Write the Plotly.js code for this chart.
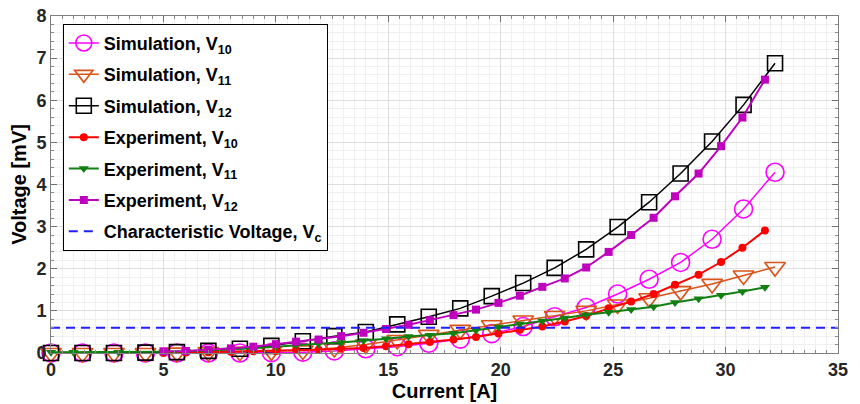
<!DOCTYPE html>
<html><head><meta charset="utf-8">
<script src="https://cdn.plot.ly/plotly-3.0.1.min.js"></script>
<style>html,body{margin:0;padding:0;background:#fff}#chart{width:860px;height:404px}</style>
</head><body><div id="chart"></div>
<script>
// Simulation currents [A]
const simCurrent = [0,1.4,2.8,4.2,5.6,7.0,8.4,9.8,11.2,12.6,14.0,15.4,16.8,18.2,19.6,21.0,22.4,23.8,25.2,26.6,28.0,29.4,30.8,32.2];
const simV10 = [0,0,0,0,0,0,0,0.01,0.02,0.05,0.10,0.15,0.23,0.33,0.46,0.63,0.86,1.08,1.40,1.75,2.15,2.70,3.42,4.29];
const simV11 = [0,0,0,0,0.01,0.02,0.03,0.04,0.06,0.12,0.20,0.31,0.43,0.55,0.66,0.77,0.88,1.00,1.15,1.30,1.47,1.64,1.84,2.04];
const simV12 = [0,0,0,0.01,0.02,0.05,0.10,0.17,0.28,0.40,0.50,0.68,0.86,1.06,1.35,1.66,2.02,2.46,2.99,3.58,4.26,5.02,5.89,6.88];

// Experiment currents [A]
const expCurrent = [5,6,7,8,9,10,10.9,11.9,12.9,13.9,14.9,15.9,16.85,17.9,18.9,19.9,20.85,21.85,22.85,23.8,24.8,25.8,26.8,27.75,28.8,29.8,30.75,31.75];
const expV10 = [0,0.01,0.02,0.03,0.04,0.05,0.07,0.08,0.10,0.12,0.16,0.21,0.26,0.32,0.38,0.46,0.55,0.63,0.75,0.88,1.06,1.22,1.40,1.62,1.86,2.16,2.50,2.91];
const expV12 = [0.04,0.05,0.08,0.11,0.15,0.21,0.27,0.32,0.40,0.48,0.57,0.67,0.78,0.90,1.03,1.19,1.36,1.57,1.77,2.03,2.40,2.80,3.21,3.72,4.26,4.91,5.59,6.49];
const expV11Current = [0,1,3,5,6,7,8,9,10,10.9,11.9,12.9,13.9,14.9,15.9,16.85,17.9,18.9,19.9,20.85,21.85,22.85,23.8,24.8,25.8,26.8,27.75,28.8,29.8,30.75,31.75];
const expV11 = [0.02,0.02,0.02,0.03,0.04,0.06,0.08,0.11,0.15,0.19,0.22,0.25,0.29,0.34,0.39,0.42,0.47,0.54,0.62,0.69,0.76,0.83,0.91,0.97,1.03,1.10,1.20,1.29,1.37,1.46,1.56];

// Characteristic voltage
const vcCurrent = [0, 35];
const vcVoltage = 0.6;

const names = [
  'Simulation, V<sub>10</sub>',
  'Simulation, V<sub>11</sub>',
  'Simulation, V<sub>12</sub>',
  'Experiment, V<sub>10</sub>',
  'Experiment, V<sub>11</sub>',
  'Experiment, V<sub>12</sub>',
  'Characteristic Voltage, V<sub>c</sub>'
];

function tr(i, x, y, color, symbol, size, lw, mlw) {
  return {
    type: 'scatter', mode: 'lines+markers', x: x, y: y, name: names[i],
    legendgroup: 'g' + i, cliponaxis: false,
    line: {color: color, width: lw},
    marker: {color: color, symbol: symbol, size: size, line: {color: color, width: mlw}}
  };
}

const traces = [
  tr(0, simCurrent, simV10, '#ff00ff', 'circle-open', 18, 1.5, 1.6),
  tr(1, simCurrent, simV11, '#d95319', 'triangle-down-open', 18, 1.5, 1.6),
  tr(2, simCurrent, simV12, '#000000', 'square-open', 15, 1.5, 1.6),
  tr(3, expCurrent, expV10, '#ff0000', 'circle', 8, 2, 0),
  tr(4, expV11Current, expV11, '#118011', 'triangle-down', 9, 2, 0),
  tr(5, expCurrent, expV12, '#bf00bf', 'square', 8, 2, 0),
  {type:'scatter', mode:'lines', x: vcCurrent, y: vcCurrent.map(() => vcVoltage), name: names[6],
   legendgroup:'g6', cliponaxis:false, line:{color:'#1f1fff', width:2, dash:'9px,6px'}}
];

const fontFam = 'Liberation Sans, Arial, Helvetica, sans-serif';
const layout = {
  width: 860, height: 404,
  margin: {l: 51, r: 22, t: 16, b: 51},
  paper_bgcolor: '#fff', plot_bgcolor: '#fff',
  font: {family: fontFam, color: '#262626', weight: 'bold'},
  showlegend: true,
  legend: {
    x: 0.015, y: 0.977, xanchor: 'left', yanchor: 'top',
    bgcolor: '#fff', bordercolor: '#000', borderwidth: 1,
    font: {family: fontFam, size: 18, color: '#000', weight: 'bold'},
    tracegroupgap: 5, itemwidth: 30, traceorder: 'grouped'
  },
  xaxis: {
    range: [0, 35], dtick: 5, tick0: 0,
    showline: true, mirror: 'allticks', linecolor: '#808080', linewidth: 1,
    ticks: 'inside', ticklen: 6, tickcolor: '#707070',
    showgrid: true, gridcolor: '#dedede', zeroline: false,
    tickfont: {family: fontFam, size: 18, color: '#262626', weight: 'bold'},
    minor: {dtick: 0.5, showgrid: true, gridcolor: '#f0f0f0', ticks: 'inside', ticklen: 3, tickcolor: '#8a8a8a'},
    title: {text: 'Current [A]', font: {family: fontFam, size: 20, color: '#000', weight: 'bold'}, standoff: 4}
  },
  yaxis: {
    range: [0, 8], dtick: 1, tick0: 0,
    showline: true, mirror: 'allticks', linecolor: '#808080', linewidth: 1,
    ticks: 'inside', ticklen: 6, tickcolor: '#707070',
    showgrid: true, gridcolor: '#dedede', zeroline: false,
    tickfont: {family: fontFam, size: 18, color: '#262626', weight: 'bold'},
    minor: {dtick: 0.2, showgrid: true, gridcolor: '#f0f0f0', ticks: 'inside', ticklen: 3, tickcolor: '#8a8a8a'},
    title: {text: 'Voltage [mV]', font: {family: fontFam, size: 20, color: '#000', weight: 'bold'}, standoff: 4}
  }
};

Plotly.newPlot('chart', traces, layout, {displayModeBar: false, staticPlot: true});
</script>
</body></html>
